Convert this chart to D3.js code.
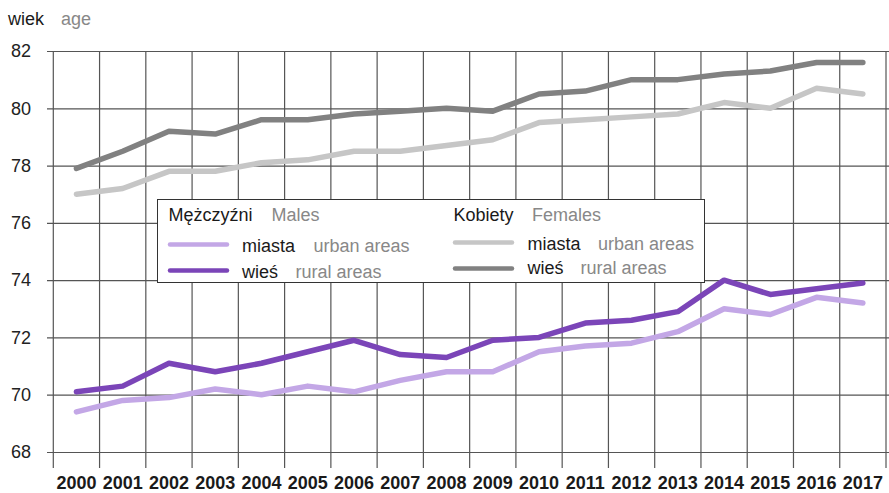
<!DOCTYPE html>
<html>
<head>
<meta charset="utf-8">
<script src="https://cdn.jsdelivr.net/npm/d3@7"></script>
<style>
  body { margin: 0; background: #fff; }
  svg { display: block; font-family: "Liberation Sans", Arial, sans-serif; }
</style>
</head>
<body>
<div id="chart"></div>
<script>
var years = [2000, 2001, 2002, 2003, 2004, 2005, 2006, 2007, 2008,
             2009, 2010, 2011, 2012, 2013, 2014, 2015, 2016, 2017];

var yTicks = [68, 70, 72, 74, 76, 78, 80, 82];

// males
var malesUrban = [69.4, 69.8, 69.9, 70.2, 70.0, 70.3, 70.1, 70.5, 70.8,
                  70.8, 71.5, 71.7, 71.8, 72.2, 73.0, 72.8, 73.4, 73.2];
var malesRural = [70.1, 70.3, 71.1, 70.8, 71.1, 71.5, 71.9, 71.4, 71.3,
                  71.9, 72.0, 72.5, 72.6, 72.9, 74.0, 73.5, 73.7, 73.9];

// females
var femalesUrban = [77.0, 77.2, 77.8, 77.8, 78.1, 78.2, 78.5, 78.5, 78.7,
                    78.9, 79.5, 79.6, 79.7, 79.8, 80.2, 80.0, 80.7, 80.5];
var femalesRural = [77.9, 78.5, 79.2, 79.1, 79.6, 79.6, 79.8, 79.9, 80.0,
                    79.9, 80.5, 80.6, 81.0, 81.0, 81.2, 81.3, 81.6, 81.6];

var w = 889, h = 493;

var svg = d3.select("#chart")
  .append("svg")
  .attr("width", w)
  .attr("height", h);

var xScale = d3.scaleBand()
  .domain(years)
  .range([53.3, 886]);

var yScale = d3.scaleLinear()
  .domain([68, 82])
  .range([452, 51]);

// horizontal grid + y labels
var yAxis = svg.append("g")
  .attr("transform", "translate(47,0)")
  .call(d3.axisLeft(yScale)
    .tickValues(yTicks)
    .tickSize(-(w - 47))
    .tickPadding(16)
    .tickFormat(d3.format("d")));

yAxis.select(".domain").remove();
yAxis.selectAll(".tick line")
  .attr("stroke", "#555")
  .attr("stroke-width", 1.2);
yAxis.selectAll(".tick text")
  .attr("font-size", "18px")
  .attr("fill", "#222");

// vertical grid lines on band edges
var edges = years.map(function(d) { return xScale(d); });
edges.push(xScale.range()[1]);

svg.append("g")
  .selectAll("line")
  .data(edges)
  .enter()
  .append("line")
  .attr("x1", function(d) { return d; })
  .attr("x2", function(d) { return d; })
  .attr("y1", yScale(82))
  .attr("y2", 468)
  .attr("stroke", "#555")
  .attr("stroke-width", 1.2);

// x labels
var xAxis = svg.append("g")
  .attr("transform", "translate(0,468)")
  .call(d3.axisBottom(xScale)
    .tickSize(0)
    .tickPadding(8));

xAxis.select(".domain").remove();
xAxis.selectAll(".tick text")
  .attr("font-size", "18px")
  .attr("font-weight", "bold")
  .attr("fill", "#1a1a1a");

// series
var series = [
  { values: femalesUrban, color: "#c6c6c6" },
  { values: femalesRural, color: "#818181" },
  { values: malesUrban, color: "#c3a7e6" },
  { values: malesRural, color: "#7b45b8" }
];

var line = d3.line()
  .x(function(d, i) { return xScale(years[i]) + xScale.bandwidth() / 2; })
  .y(function(d) { return yScale(d); });

svg.append("g")
  .selectAll("path")
  .data(series)
  .enter()
  .append("path")
  .attr("d", function(d) { return line(d.values); })
  .attr("fill", "none")
  .attr("stroke", function(d) { return d.color; })
  .attr("stroke-width", 5.5)
  .attr("stroke-linejoin", "round")
  .attr("stroke-linecap", "round");

// axis title
svg.append("text")
  .attr("x", 8)
  .attr("y", 25)
  .attr("font-size", "18px")
  .attr("fill", "#1a1a1a")
  .text("wiek");
svg.append("text")
  .attr("x", 61)
  .attr("y", 25)
  .attr("font-size", "18px")
  .attr("fill", "#888")
  .text("age");

// legend
var legend = svg.append("g");

legend.append("rect")
  .attr("x", 157.5)
  .attr("y", 199.5)
  .attr("width", 547)
  .attr("height", 83)
  .attr("fill", "#fff")
  .attr("stroke", "#333")
  .attr("stroke-width", 1);

var legendHeads = [
  { pl: "Mężczyźni", en: "Males", x: 168.5, xe: 271.5 },
  { pl: "Kobiety", en: "Females", x: 453.5, xe: 532 }
];

var legendItems = [
  { color: "#c3a7e6", x: 170, ly: 244.5, tx: 242, ty: 252, pl: "miasta", en: "urban areas", ex: 313.5 },
  { color: "#7b45b8", x: 170, ly: 270.5, tx: 242, ty: 277.5, pl: "wieś", en: "rural areas", ex: 295.5 },
  { color: "#c6c6c6", x: 455, ly: 242.5, tx: 527.5, ty: 249.5, pl: "miasta", en: "urban areas", ex: 598 },
  { color: "#818181", x: 455, ly: 268.5, tx: 527.5, ty: 273.5, pl: "wieś", en: "rural areas", ex: 580.5 }
];

legendHeads.forEach(function(d) {
  legend.append("text")
    .attr("x", d.x).attr("y", 221)
    .attr("font-size", "18px").attr("fill", "#1a1a1a")
    .text(d.pl);
  legend.append("text")
    .attr("x", d.xe).attr("y", 221)
    .attr("font-size", "18px").attr("fill", "#888")
    .text(d.en);
});

legendItems.forEach(function(d) {
  legend.append("line")
    .attr("x1", d.x).attr("x2", d.x + 57)
    .attr("y1", d.ly).attr("y2", d.ly)
    .attr("stroke", d.color)
    .attr("stroke-width", 4.5)
    .attr("stroke-linecap", "round");
  legend.append("text")
    .attr("x", d.tx).attr("y", d.ty)
    .attr("font-size", "18px").attr("fill", "#1a1a1a")
    .text(d.pl);
  legend.append("text")
    .attr("x", d.ex).attr("y", d.ty)
    .attr("font-size", "18px").attr("fill", "#888")
    .text(d.en);
});
</script>
</body>
</html>
